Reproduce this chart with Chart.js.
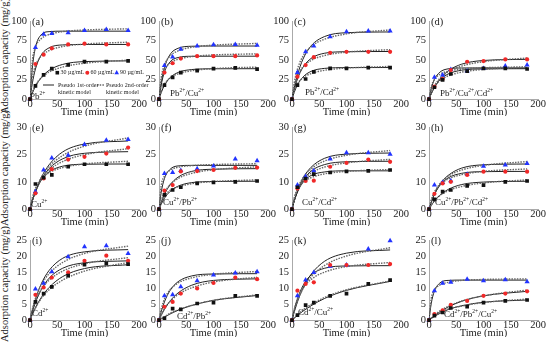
<!DOCTYPE html>
<html>
<head>
<meta charset="utf-8">
<script src="https://cdn.jsdelivr.net/npm/chart.js@4"></script>
<style>
  body { margin: 0; background: #fff; }
  #wrap { position: relative; width: 550px; height: 342px; overflow: hidden; }
  #wrap canvas { position: absolute; }
  .ytitle {
    position: absolute; width: 150px; height: 14px; line-height: 14px;
    text-align: center; white-space: nowrap; color: #222;
    font: 10.5px 'Liberation Serif', serif; transform: rotate(-90deg);
  }
</style>
</head>
<body>
<div id="wrap"></div>
<script>
// sampling times (min)
const timeObs = [0, 10, 25, 40, 70, 100, 140, 180];
const timeFit = [0, 4, 10, 20, 35, 60, 100, 180];

// text
const panelTags = ['(a)', '(b)', '(c)', '(d)', '(e)', '(f)', '(g)', '(h)', '(i)', '(j)', '(k)', '(l)'];
const ionLabels = ['Pb2+', 'Pb2+/Cu2+', 'Pb2+/Cd2+', 'Pb2+/Cu2+/Cd2+',
                   'Cu2+', 'Cu2+/Pb2+', 'Cu2+/Cd2+', 'Cu2+/Pb2+/Cd2+',
                   'Cd2+', 'Cd2+/Pb2+', 'Cd2+/Cu2+', 'Cd2+/Pb2+/Cu2+'];
const xTickLabels = ['0', '50', '100', '150', '200'];
const yTicksTop = ['0', '25', '50', '75', '100'];
const yTicksMid = ['0', '10', '25', '30'];
const yTicksLow = ['0', '5', '10', '15', '20', '25'];
const concLabels = ['30 µg/mL', '60 µg/mL', '90 µg/mL'];
const modelLabels = ['Pseudo 1st-order', 'Pseudo 2nd-order'];
const modelLabels2 = ['kinetic model', 'kinetic model'];
const xTitle = 'Time (min)';
const yTitle = 'Adsorption capacity (mg/g)';

// observed points [30, 60, 90 µg/mL] at timeObs
const aObs = [[0, 17, 31, 39, 44, 48, 48, 49], [0, 45, 57, 65, 70, 71, 70, 70], [0, 66, 83, 84, 85, 88, 89, 88]];
const bObs = [[0, 18, 28, 34, 36.5, 39, 40, 38.5], [0, 34, 46, 52, 55, 55, 55, 56], [0, 43, 54, 64, 68, 69.5, 70, 69]];
const cObs = [[0, 18, 25.8, 35, 39.4, 39.4, 40.3, 40.3], [0, 28.8, 43.6, 53.8, 59.3, 60.6, 60.6, 60.6], [0, 34, 60.6, 68, 79.7, 86.4, 87.3, 87.3]];
const dObs = [[0, 15.3, 24.6, 32.2, 36, 39.4, 39.4, 38.6], [0, 16, 25.8, 37.3, 47.9, 48.7, 50.8, 50.8], [0, 28, 31, 38, 36, 39.4, 42.4, 43.6]];
const eObs = [[0, 9.2, 11.5, 12.5, 15.5, 16.4, 16.4, 16.4], [0, 5.8, 11.2, 14.6, 18.1, 19.1, 20.3, 22.5], [0, 6.4, 14.3, 18.7, 19.7, 23.6, 25.2, 25.4]];
const fObs = [[0, 5.2, 7, 8, 9.4, 9.8, 10, 10.3], [0, 6.8, 8.8, 13.8, 13.9, 14.3, 15.1, 15.2], [0, 13, 13.4, 14.1, 14.8, 15.8, 18.3, 17.7]];
const gObs = [[0, 8, 11.2, 12.8, 13.4, 13.8, 14, 14.3], [0, 7.6, 10.3, 10.4, 15.5, 16.9, 18.1, 17.3], [0, 8.8, 11.9, 14, 18.3, 20.6, 20.6, 20.1]];
const hObs = [[0, 3.6, 6.4, 7, 8.5, 8.8, 10, 10.3], [0, 5.6, 9.4, 10, 12.5, 13.7, 13.7, 13.7], [0, 8.8, 9.7, 10.4, 12.8, 15.7, 16.1, 16.7]];
const iObs = [[0, 5.7, 8.3, 10.4, 13.9, 17.3, 17.7, 17.5], [0, 7.9, 10.2, 13.3, 14.9, 18.5, 20.1, 18.5], [0, 9.7, 11.5, 15.1, 19.8, 22.9, 23.2, 20.8]];
const jObs = [[0, 0.6, 3.6, 3.4, 5.2, 5.5, 7.6, 7.6], [0, 4.2, 5.7, 8.3, 9.9, 11.6, 13.3, 12.8], [0, 7.6, 7.9, 10.4, 12.3, 14.1, 14.7, 15.1]];
const kObs = [[0, 1.6, 4.7, 5.5, 7.6, 8.3, 11.3, 12.5], [0, 9.2, 11.3, 11.8, 17.2, 17.2, 17.2, 17.5], [0, 7.6, 12.5, 14.9, 16.8, 17.2, 22.2, 24.8]];
const lObs = [[0, 1.4, 2.4, 3.8, 4.2, 5.5, 6, 6.3], [0, 1.9, 3.1, 4.8, 6, 7.6, 8.3, 9], [0, 9.2, 11.5, 11.8, 12.8, 12.3, 12.6, 12]];

// pseudo 1st-order curves read at timeFit
const aFit1 = [[0, 7.3, 16.2, 27, 36.9, 44.5, 48.1, 49], [0, 19.2, 38.6, 55.9, 65.7, 69.4, 70, 70], [0, 37.9, 66.2, 82, 86.4, 87, 87, 87]];
const bFit1 = [[0, 8.3, 17.6, 27.3, 34.2, 37.9, 38.9, 39], [0, 18.1, 34.8, 47.6, 53.3, 54.9, 55, 55], [0, 20.5, 40.3, 56.8, 65.1, 67.7, 68, 68]];
const cFit1 = [[0, 8.6, 18.3, 28.3, 35.6, 39.4, 40.4, 40.5], [0, 12, 25.8, 40.7, 52.1, 58.8, 60.7, 61], [0, 14.2, 31.1, 51, 68.2, 80.2, 85, 86]];
const dFit1 = [[0, 7.1, 15.3, 24.7, 32.2, 37.1, 38.7, 39], [0, 6.7, 15, 25.6, 36, 44.8, 49.5, 51], [0, 13.2, 25.3, 34.6, 38.8, 39.9, 40, 40]];
const eFit1 = [[0, 3, 6.5, 10.4, 13.6, 15.7, 16.4, 16.5], [0, 2.8, 6.2, 10.6, 14.8, 18.4, 20.4, 21], [0, 2.8, 6.5, 11.3, 16.2, 20.9, 23.8, 24.9]];
const fFit1 = [[0, 1.8, 4, 6.4, 8.4, 9.7, 10.1, 10.2], [0, 2.4, 5.4, 8.8, 11.7, 13.8, 14.6, 14.8], [0, 6.1, 11.2, 14.5, 15.8, 16, 16, 16]];
const gFit1 = [[0, 3, 6.3, 9.8, 12.3, 13.6, 14, 14], [0, 2.9, 6.3, 10.4, 13.9, 16.3, 17.3, 17.5], [0, 3, 6.8, 11.3, 15.3, 18.6, 20.1, 20.5]];
const hFit1 = [[0, 1.3, 3, 5.1, 7.2, 9, 9.9, 10.2], [0, 2.5, 5.4, 8.7, 11.4, 13.1, 13.7, 13.8], [0, 2.5, 5.4, 9.1, 12.3, 15, 16.2, 16.5]];
const iFit1 = [[0, 1.7, 3.9, 6.9, 10.2, 13.6, 16.1, 17.3], [0, 2.4, 5.5, 9.3, 13.1, 16.2, 17.9, 18.5], [0, 2.9, 6.5, 11.1, 15.5, 19.3, 21.3, 22]];
const jFit1 = [[0, 0.4, 1, 1.9, 3.1, 4.6, 6.2, 7.7], [0, 1.5, 3.4, 5.9, 8.5, 10.9, 12.4, 12.9], [0, 2.6, 5.7, 9.2, 12, 13.8, 14.4, 14.5]];
const kFit1 = [[0, 0.6, 1.5, 2.8, 4.5, 6.8, 9.3, 12.1], [0, 3.1, 6.7, 10.7, 14.1, 16.2, 16.9, 17], [0, 2.5, 5.7, 9.9, 14.3, 18.4, 20.9, 21.9]];
const lFit1 = [[0, 0.5, 1.2, 2.1, 3.3, 4.5, 5.6, 6.3], [0, 0.6, 1.4, 2.6, 4.1, 5.9, 7.6, 9], [0, 5.1, 9.1, 11.6, 12.4, 12.5, 12.5, 12.5]];

// pseudo 2nd-order curves read at timeFit
const aFit2 = [[0, 8.7, 17.7, 26.9, 34.6, 41.1, 46, 50], [0, 25.9, 42.8, 54.8, 62.2, 67.3, 70.5, 72.9], [0, 46.6, 66.2, 77, 82.8, 86.4, 88.5, 90]];
const bFit2 = [[0, 10.6, 19.5, 27, 32.4, 36.4, 39.1, 41.1], [0, 23.8, 37.3, 46, 51.1, 54.5, 56.6, 58], [0, 27.2, 43.8, 55, 61.8, 66.4, 69.2, 71.3]];
const cFit2 = [[0, 10.6, 19.6, 27.3, 32.8, 37, 39.8, 41.9], [0, 16, 29.6, 41.2, 49.6, 55.9, 60.2, 63.4], [0, 20.2, 38.4, 54.9, 67.2, 76.8, 83.5, 88.6]];
const dFit2 = [[0, 8.2, 16.1, 23.7, 29.7, 34.6, 38.1, 40.9], [0, 8.3, 17.1, 26.7, 35, 42.4, 48, 52.7], [0, 15.6, 25.3, 31.9, 35.8, 38.5, 40.2, 41.4]];
const eFit2 = [[0, 4, 7.6, 10.9, 13.3, 15.2, 16.5, 17.5], [0, 3.2, 6.7, 10.6, 14.2, 17.4, 19.9, 22.1], [0, 3.2, 6.9, 11.3, 15.5, 19.6, 23, 26]];
const fFit2 = [[0, 2.6, 4.8, 6.8, 8.2, 9.3, 10.1, 10.7], [0, 3.1, 6.1, 8.9, 11.2, 13.1, 14.4, 15.5], [0, 8.5, 12.1, 14.2, 15.3, 15.9, 16.3, 16.6]];
const gFit2 = [[0, 3.9, 7, 9.7, 11.5, 12.9, 13.8, 14.5], [0, 3.6, 7.1, 10.5, 13.2, 15.4, 16.9, 18.2], [0, 3.7, 7.5, 11.4, 14.7, 17.6, 19.7, 21.4]];
const hFit2 = [[0, 1.5, 3.1, 5, 6.7, 8.3, 9.6, 10.7], [0, 3.2, 6.2, 8.9, 11, 12.6, 13.8, 14.7], [0, 3, 6.1, 9.3, 12, 14.3, 16, 17.4]];
const iFit2 = [[0, 1.7, 3.8, 6.6, 9.5, 12.5, 15.3, 18], [0, 2.8, 5.9, 9.4, 12.5, 15.3, 17.6, 19.5], [0, 3.2, 6.75, 10.8, 14.5, 18, 20.8, 23.1]];
const jFit2 = [[0, 0.5, 1.1, 2.1, 3.2, 4.6, 6.2, 7.9], [0, 1.6, 3.6, 5.8, 8, 10.1, 11.9, 13.4], [0, 3.5, 6.6, 9.4, 11.6, 13.2, 14.3, 15.2]];
const kFit2 = [[0, 0.7, 1.7, 3.2, 4.9, 7.1, 9.5, 12.2], [0, 3.3, 6.7, 10, 12.7, 15, 16.7, 18], [0, 2.8, 6, 9.8, 13.5, 17.1, 20, 22.6]];
const lFit2 = [[0, 0.6, 1.3, 2.3, 3.5, 4.4, 5.5, 6.6], [0, 0.7, 1.6, 2.9, 4.3, 6, 7.6, 9.4], [0, 6.6, 9.4, 11, 11.8, 12.4, 12.7, 12.9]];

const obsSets = [aObs, bObs, cObs, dObs, eObs, fObs, gObs, hObs, iObs, jObs, kObs, lObs];
const fit1Sets = [aFit1, bFit1, cFit1, dFit1, eFit1, fFit1, gFit1, hFit1, iFit1, jFit1, kFit1, lFit1];
const fit2Sets = [aFit2, bFit2, cFit2, dFit2, eFit2, fFit2, gFit2, hFit2, iFit2, jFit2, kFit2, lFit2];

// axis ranges per row
const rowYMax = [100, 30, 25];
const rowYStep = [25, 10, 5];
const rowYLabels = [yTicksTop, yTicksMid, yTicksLow];

// layout
const cols = [30, 159, 292, 429];
const rowTop = [21, 127, 240];
const rowBot = [99, 209, 320];
const plotW = 109;
const padL = 30, padT = 12, padR = 16, padB = 17;
const ionPos = [[0, 0.5], [11, 3.5], [13, 4.5], [11, 3.5], [1, 2], [4, 4], [10, 4], [6, 4], [2, 4], [18, 1.5], [6, 5.5], [15, 3.5]];
const titleCenters = [56, 168, 284];

const seriesColors = ['#111111', '#f02828', '#2233ff'];
const markerStyles = ['rect', 'circle', 'triangle'];
const markerSizes = [2.6, 2.1, 3];
const serif = "'Liberation Serif', serif";

const wrap = document.getElementById('wrap');

titleCenters.forEach(cy => {
    const d = document.createElement('div');
    d.className = 'ytitle';
    d.textContent = yTitle;
    d.style.left = (6 - 75) + 'px';
    d.style.top = (cy - 7) + 'px';
    wrap.appendChild(d);
});

function drawIon(ctx, text, x, y) {
    let cx = x;
    text.split(/(\d\+)/).forEach(p => {
        if (!p) return;
        if (/^\d\+$/.test(p)) {
            ctx.font = '5.5px ' + serif;
            ctx.fillText(p, cx, y - 4);
        } else {
            ctx.font = '9px ' + serif;
            ctx.fillText(p, cx, y);
        }
        cx += ctx.measureText(p).width;
    });
}

function drawMarker(ctx, s, x, y) {
    ctx.fillStyle = seriesColors[s];
    ctx.beginPath();
    if (s === 0) {
        ctx.rect(x - 1.8, y - 1.8, 3.6, 3.6);
    } else if (s === 1) {
        ctx.arc(x, y, 2, 0, Math.PI * 2);
    } else {
        ctx.moveTo(x, y - 2.6);
        ctx.lineTo(x + 2.3, y + 1.5);
        ctx.lineTo(x - 2.3, y + 1.5);
        ctx.closePath();
    }
    ctx.fill();
}

function drawLegend(ctx, area) {
    const x = area.left, y = area.top;
    const markX = [27.3, 57.3, 86.7];
    ctx.font = '6px ' + serif;
    ctx.textBaseline = 'middle';
    for (let s = 0; s < 3; s++) {
        drawMarker(ctx, s, x + markX[s], y + 51.7);
        ctx.fillStyle = '#222';
        ctx.fillText(concLabels[s], x + markX[s] + 3.2, y + 51.7);
    }
    ctx.strokeStyle = '#222';
    ctx.lineWidth = 1;
    ctx.beginPath();
    ctx.moveTo(x + 13, y + 64);
    ctx.lineTo(x + 24, y + 64);
    ctx.stroke();
    ctx.strokeStyle = '#666';
    ctx.lineWidth = 1.4;
    ctx.setLineDash([1.5, 1.2]);
    ctx.beginPath();
    ctx.moveTo(x + 67, y + 64);
    ctx.lineTo(x + 74, y + 64);
    ctx.stroke();
    ctx.setLineDash([]);
    ctx.fillStyle = '#222';
    ctx.fillText(modelLabels[0], x + 28, y + 64);
    ctx.fillText(modelLabels[1], x + 76, y + 64);
    ctx.fillText(modelLabels2[0], x + 28, y + 71);
    ctx.fillText(modelLabels2[1], x + 76, y + 71);
}

function makePanel(i) {
    const r = Math.floor(i / 4), c = i % 4;
    const h = padT + (rowBot[r] - rowTop[r]) + padB;
    const w = padL + plotW + padR;
    const cv = document.createElement('canvas');
    cv.width = w;
    cv.height = h;
    cv.style.left = (cols[c] - padL) + 'px';
    cv.style.top = (rowTop[r] - padT) + 'px';
    wrap.appendChild(cv);

    const datasets = [];
    for (let s = 0; s < 3; s++) {
        datasets.push({
            data: timeFit.map((t, k) => ({ x: t, y: fit1Sets[i][s][k] })),
            showLine: true, borderColor: '#222', borderWidth: 1,
            pointRadius: 0, cubicInterpolationMode: 'monotone', order: 2
        });
        datasets.push({
            data: timeFit.map((t, k) => ({ x: t, y: fit2Sets[i][s][k] })),
            showLine: true, borderColor: '#666', borderWidth: 1.4, borderDash: [1.5, 1.2],
            pointRadius: 0, cubicInterpolationMode: 'monotone', order: 1
        });
        datasets.push({
            data: timeObs.map((t, k) => ({ x: t, y: obsSets[i][s][k] })),
            showLine: false, pointStyle: markerStyles[s], pointRadius: markerSizes[s],
            backgroundColor: seriesColors[s], pointBorderWidth: 0, borderWidth: 0,
            clip: 5, order: 0
        });
    }

    const tickFont = { family: serif, size: 10.5 };
    const xTickFont = { family: serif, size: 10.5, lineHeight: 0.9 };
    const xTitleFont = { family: serif, size: 10.5, lineHeight: 0.7 };

    new Chart(cv, {
        type: 'scatter',
        data: { datasets },
        options: {
            responsive: false,
            devicePixelRatio: 1,
            animation: false,
            layout: { padding: { top: padT, right: padR, bottom: 0, left: 0 } },
            plugins: { legend: { display: false }, tooltip: { enabled: false } },
            scales: {
                x: {
                    type: 'linear', min: 0, max: 200,
                    grid: { display: false, drawTicks: false },
                    border: { color: '#aaa', width: 1 },
                    ticks: {
                        stepSize: 50, padding: 0, autoSkip: false, maxRotation: 0,
                        font: xTickFont, color: '#222',
                        callback: (v, idx) => xTickLabels[idx]
                    },
                    title: { display: true, text: xTitle, font: xTitleFont, color: '#222', padding: 0 }
                },
                y: {
                    min: 0, max: rowYMax[r],
                    afterFit: sc => { sc.width = padL; },
                    grid: { display: false, drawTicks: false },
                    border: { color: '#aaa', width: 1 },
                    ticks: {
                        stepSize: rowYStep[r], padding: 3, autoSkip: false,
                        font: tickFont, color: '#222',
                        callback: (v, idx) => rowYLabels[r][idx]
                    }
                }
            }
        },
        plugins: [{
            id: 'panelText',
            afterDraw(chart) {
                const ctx = chart.ctx, area = chart.chartArea;
                ctx.save();
                ctx.fillStyle = '#222';
                ctx.font = '10.5px ' + serif;
                ctx.textBaseline = 'middle';
                ctx.fillText(panelTags[i], area.left + 2, area.top + 1);
                ctx.textBaseline = 'alphabetic';
                drawIon(ctx, ionLabels[i], area.left + ionPos[i][0], area.bottom - ionPos[i][1]);
                if (i === 0) drawLegend(ctx, area);
                ctx.restore();
            }
        }]
    });
}

for (let i = 0; i < 12; i++) makePanel(i);
</script>
</body>
</html>
